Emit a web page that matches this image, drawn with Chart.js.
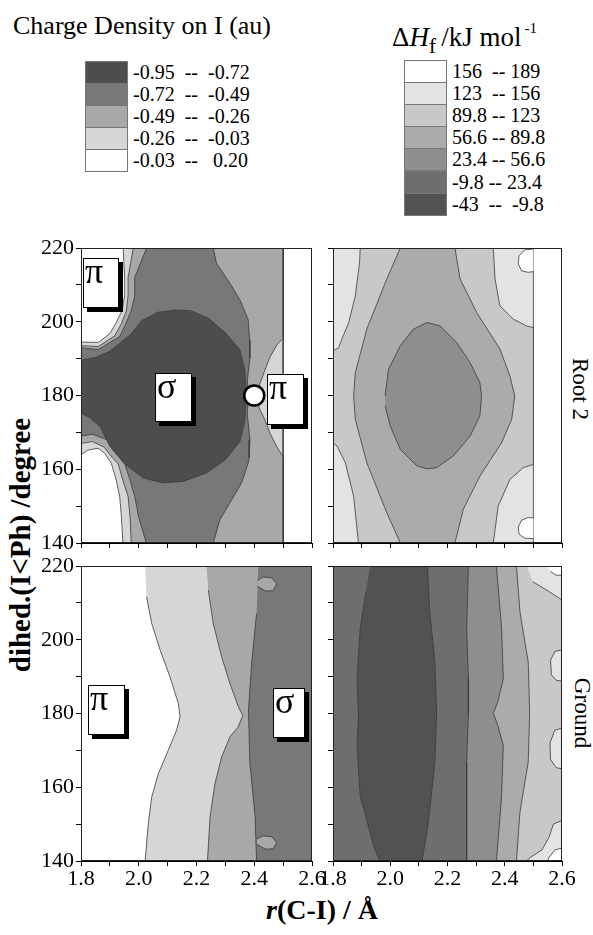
<!DOCTYPE html>
<html>
<head>
<meta charset="utf-8">
<script src="https://cdn.jsdelivr.net/npm/chart.js@4.4.1/dist/chart.umd.min.js"></script>
<style>
  body { margin: 0; background: #fff; }
  #page { position: relative; width: 593px; height: 935px; overflow: hidden;
          font-family: "Liberation Serif", "DejaVu Serif", serif; color: #000; }
  .panel { position: absolute; }
  .tag { position: absolute; background: #fff; border: 1.5px solid #000; box-shadow: 4px 4px 0 #000;
         font-size: 36px; line-height: 24px; box-sizing: border-box; padding-left: 1px; z-index: 5; }
  .rot { position: absolute; white-space: nowrap; }
  .sw { position: absolute; box-sizing: border-box; }
  .lb { position: absolute; white-space: pre; font-size: 20px; line-height: 22px; }
</style>
</head>
<body>
<div id="page">
  <div class="rot" style="left:13px;top:13px;font-size:26px;line-height:26px;">Charge Density on I (au)</div>
  <div class="rot" style="left:392px;top:15px;font-size:27px;line-height:27px;">&Delta;<i>H</i><sub style="font-size:21px;vertical-align:-7px;">f</sub>&thinsp;/kJ mol<sup style="font-size:15px;vertical-align:13px;">&thinsp;-1</sup></div>
  <div id="legendA"></div>
  <div id="legendB"></div>

  <div class="rot" style="left:20px;top:545px;font-size:29px;font-weight:bold;transform:translate(-50%,-50%) rotate(-90deg);">dihed.(I&lt;Ph) /degree</div>
  <div class="rot" style="left:322px;top:910px;font-size:28px;font-weight:bold;transform:translate(-50%,-50%);"><i>r</i>(C-I) / &Aring;</div>
  <div class="rot" style="left:580px;top:389px;font-size:23px;transform:translate(-50%,-50%) rotate(90deg);">Root 2</div>
  <div class="rot" style="left:582px;top:713px;font-size:23px;transform:translate(-50%,-50%) rotate(90deg);">Ground</div>

  <div class="tag" style="left:83px;top:258px;width:36px;height:50px;">&pi;</div>
  <div class="tag" style="left:155px;top:373px;width:37px;height:49px;">&sigma;</div>
  <div class="tag" style="left:267px;top:374px;width:37px;height:51px;">&pi;</div>
  <div class="tag" style="left:88px;top:685px;width:37px;height:50px;">&pi;</div>
  <div class="tag" style="left:273px;top:688px;width:32px;height:50px;">&sigma;</div>
</div>

<script>
  // legend categories (two colour keys)
  const chargeRanges = ["-0.95  --  -0.72", "-0.72  --  -0.49", "-0.49  --  -0.26", "-0.26  --  -0.03", "-0.03  --   0.20"];
  const chargeColors = ["#4d4d4d", "#787878", "#a8a8a8", "#d6d6d6", "#ffffff"];
  const enthRanges = ["156  -- 189", "123  -- 156", "89.8 -- 123", "56.6 -- 89.8", "23.4 -- 56.6", "-9.8 -- 23.4", "-43  --  -9.8"];
  const enthColors = ["#ffffff", "#e3e3e3", "#c8c8c8", "#ababab", "#8e8e8e", "#6e6e6e", "#525252"];

  // axis ranges
  const rRange = [1.8, 2.6];
  const dihedRange = [140, 220];

  // ---- Root 2, charge density: contour regions as [r, dihed] outlines ----
  const r2ChargeL4 = [[1.946,220],[2.50,220],[2.50,140],[1.945,140],[1.940,147.1],[1.934,152.6],[1.922,157.1],[1.905,161.6],[1.882,164.3],[1.859,165.7],[1.824,165.2],[1.80,163.9],[1.80,194.5],[1.86,194.4],[1.899,196.7],[1.92,199.5],[1.942,203],[1.951,207],[1.951,212],[1.946,220]];
  const r2ChargeL3 = [[1.981,220],[2.50,220],[2.50,195.5],[2.478,193.7],[2.455,190.5],[2.437,186.9],[2.420,183.3],[2.403,179.7],[2.420,176.1],[2.437,173.4],[2.455,169.7],[2.478,166.1],[2.50,163.4],[2.50,140],[1.974,140],[1.97,147],[1.963,152.6],[1.945,157],[1.928,161.6],[1.91,163],[1.88,166],[1.84,167.5],[1.80,167],[1.80,193.5],[1.86,193.3],[1.917,196.2],[1.94,199.5],[1.957,203],[1.963,207],[1.963,212],[1.981,220]];
  const r2ChargeL2 = [[2.027,220],[2.258,220],[2.269,215.9],[2.315,210.5],[2.350,206],[2.379,200.6],[2.384,195.1],[2.385,190],[2.376,184],[2.380,180],[2.376,175],[2.385,168],[2.382,163],[2.379,161.7],[2.356,156.3],[2.315,150.8],[2.281,146.3],[2.258,140],[2.026,140],[2.00,147],[1.986,152.6],[1.97,157],[1.951,161.6],[1.92,165],[1.89,168],[1.84,169.5],[1.80,169],[1.80,192.9],[1.86,192.5],[1.934,196],[1.955,199.5],[1.974,203],[1.986,207],[1.986,212],[2.027,220]];
  const r2ChargeL1 = [[1.80,189.6],[1.85,190.3],[1.90,192],[1.94,194.5],[1.974,196.7],[2.01,200.3],[2.067,202.6],[2.13,203.2],[2.18,203.0],[2.24,201.0],[2.30,197.0],[2.35,192.4],[2.367,187.0],[2.373,180],[2.367,173],[2.35,167.5],[2.30,162.6],[2.235,159.0],[2.154,156.7],[2.085,156.3],[2.016,157.6],[1.95,161.5],[1.90,166.2],[1.866,171.6],[1.83,174],[1.80,175.2]];
  const r2Crossing = [[2.40, 180]];

  // ---- Root 2, enthalpy ----
  const r2EnthE3 = [[1.8,140],[2.5,140],[2.5,220],[1.8,220]];
  const r2EnthWhiteTop = [[2.50,219.7],[2.470,219.5],[2.450,217.9],[2.447,215.7],[2.459,213.8],[2.482,213.4],[2.50,213.6]];
  const r2EnthWhiteBot = [[2.50,146.8],[2.482,146.9],[2.459,146.2],[2.447,144.3],[2.450,142.4],[2.470,141.3],[2.50,141.2]];
  const r2EnthC8 = [[1.895,220],[1.893,216.1],[1.878,207],[1.855,199.8],[1.831,195.3],[1.820,193],[1.8,192.1],[1.8,167.2],[1.814,166.3],[1.843,161.8],[1.872,152.7],[1.889,140],[2.360,140],[2.377,150],[2.418,157.2],[2.464,160.4],[2.50,161.3],[2.50,198.4],[2.476,198.9],[2.43,200.7],[2.383,204.3],[2.366,211.6],[2.360,220]];
  const r2EnthAB = [[2.035,220],[1.988,211.6],[1.918,198],[1.878,186.2],[1.872,179.9],[1.878,173.5],[1.918,161.8],[1.988,148.2],[2.035,140],[2.226,140],[2.255,149.1],[2.313,158.1],[2.389,167.2],[2.424,173.5],[2.435,179.9],[2.418,185.3],[2.383,192.6],[2.302,202.5],[2.244,211.6],[2.226,220]];
  const r2Enth8E = [[1.982,179.9],[1.994,187.1],[2.035,193.5],[2.081,198.0],[2.128,199.8],[2.174,198.9],[2.232,194.4],[2.279,188.9],[2.313,183.5],[2.319,179.9],[2.313,174.4],[2.279,169.0],[2.220,163.6],[2.162,160.4],[2.128,160.1],[2.093,160.9],[2.035,165.4],[2.000,171.7],[1.982,177.2]];

  // ---- Ground, charge density ----
  const gChargeL4 = [[2.022,220],[2.6,220],[2.6,140],[2.022,140],[2.033,150.1],[2.045,157.4],[2.068,163.7],[2.102,170],[2.131,175.5],[2.143,179.1],[2.137,182.7],[2.108,190],[2.074,197.2],[2.045,204.4],[2.027,211.7]];
  const gChargeL3 = [[2.235,220],[2.6,220],[2.6,140],[2.238,140],[2.247,152],[2.264,161],[2.287,168.2],[2.316,173.7],[2.345,176.4],[2.360,179.5],[2.345,181.8],[2.316,188.1],[2.287,195.4],[2.258,204.4],[2.241,213.5]];
  const gChargeL2 = [[2.414,220],[2.6,220],[2.6,140],[2.408,140],[2.403,152],[2.385,166.4],[2.380,180.9],[2.391,193.6],[2.408,207.1]];
  const gChargeBlobTop = [[2.411,216],[2.43,217],[2.46,216.8],[2.478,215.2],[2.465,213.3],[2.44,213.2],[2.411,214.5]];
  const gChargeBlobBot = [[2.409,146],[2.43,146.8],[2.46,146.6],[2.478,145],[2.465,143.3],[2.44,143.2],[2.409,144.5]];

  // ---- Ground, enthalpy ----
  const gEnthC8 = [[1.8,140],[2.6,140],[2.6,220],[1.8,220]];
  const gEnthE3Top = [[2.476,220],[2.6,220],[2.6,210.7],[2.592,211.2],[2.546,213.5],[2.499,215.7]];
  const gEnthWhiteTop = [[2.55,220],[2.6,220],[2.6,217.5],[2.58,217.5],[2.56,218.5]];
  const gEnthE3Mid1 = [[2.6,197.3],[2.575,196.8],[2.560,194.5],[2.563,190.5],[2.58,189],[2.6,188.8]];
  const gEnthE3Mid2 = [[2.6,176],[2.575,175.5],[2.558,172],[2.560,167.5],[2.58,165.3],[2.6,165]];
  const gEnthE3Bot = [[2.6,151],[2.57,150],[2.555,146.5],[2.53,143],[2.49,141],[2.475,140],[2.6,140]];
  const gEnthWhiteBot = [[2.6,143.5],[2.575,143],[2.555,141],[2.55,140],[2.6,140]];
  const gEnthAB = [[1.8,220],[2.441,220],[2.453,207.6],[2.482,194],[2.487,180],[2.482,166.8],[2.453,153.2],[2.441,140],[1.8,140]];
  const gEnth8E = [[1.8,220],[2.371,220],[2.389,203],[2.395,189.4],[2.375,183],[2.360,180],[2.375,177],[2.395,171.3],[2.389,157.7],[2.371,140],[1.8,140]];
  const gEnth6E = [[1.8,220],[2.273,220],[2.267,203],[2.273,189.4],[2.273,180],[2.267,166.8],[2.267,140],[1.8,140]];
  const gEnth52 = [[1.93,220],[2.13,220],[2.138,207.6],[2.156,194],[2.162,180],[2.156,166.8],[2.133,150.4],[2.111,140],[1.964,140],[1.942,144.1],[1.895,157.7],[1.884,171.3],[1.889,180],[1.884,189.4],[1.895,203],[1.915,213]];

  const SERIF = "'Liberation Serif', 'DejaVu Serif', serif";
  const page = document.getElementById("page");

  // build a colour key
  function buildLegend(el, ranges, colors, x, y, w, rowH){
    ranges.forEach((txt, i) => {
      const sw = document.createElement("div");
      sw.className = "sw";
      sw.style.cssText = `left:${x}px;top:${y + i*rowH}px;width:${w}px;height:${rowH + 1}px;background:${colors[i]};border:1px solid #777;`;
      el.appendChild(sw);
      const lb = document.createElement("div");
      lb.className = "lb";
      lb.style.left = (x + w + 5) + "px";
      lb.style.top = (y + i*rowH) + "px";
      lb.textContent = txt;
      el.appendChild(lb);
    });
  }
  buildLegend(document.getElementById("legendA"), chargeRanges, chargeColors, 85, 61, 43, 22.1);
  buildLegend(document.getElementById("legendB"), enthRanges, enthColors, 404, 60, 43, 22.1);

  function region(pts, color){
    return { data: pts.map(p => ({x: p[0], y: p[1]})), fill: "shape", backgroundColor: color,
             borderColor: "#3a3a3a", borderWidth: 0.8, pointRadius: 0, tension: 0 };
  }

  const framePlugin = {
    id: "frame",
    afterDraw(chart){
      const {ctx, chartArea: a} = chart;
      ctx.save();
      ctx.strokeStyle = "#222";
      ctx.lineWidth = 1;
      ctx.strokeRect(a.left + 0.5, a.top + 0.5, a.width - 1, a.height - 1);
      ctx.restore();
    }
  };

  // box = plot area in page px, pad = room around it for ticks / labels
  function makePanel(box, pad, datasets, showX, showY){
    const wrap = document.createElement("div");
    wrap.className = "panel";
    const W = box.w + pad.l + pad.r, H = box.h + pad.t + pad.b;
    wrap.style.cssText = `left:${box.l - pad.l}px;top:${box.t - pad.t}px;width:${W}px;height:${H}px;`;
    const cv = document.createElement("canvas");
    cv.width = W; cv.height = H;
    cv.style.width = W + "px"; cv.style.height = H + "px";
    wrap.appendChild(cv);
    page.appendChild(wrap);

    // first listed = bottom layer
    datasets.forEach((d, i) => { d.order = datasets.length - i; });

    return new Chart(cv.getContext("2d"), {
      type: "line",
      data: { datasets },
      options: {
        responsive: false, animation: false, events: [],
        layout: { padding: { left: 0, top: pad.t, right: pad.r, bottom: 0 }, autoPadding: false },
        plugins: { legend: { display: false }, tooltip: { enabled: false } },
        scales: {
          x: {
            type: "linear", min: rRange[0], max: rRange[1],
            afterFit: s => { s.height = pad.b; },
            grid: { drawOnChartArea: false, drawTicks: true, tickLength: 5, color: "#000" },
            border: { display: true, color: "#000" },
            ticks: { display: showX, stepSize: 0.1, autoSkip: false, maxRotation: 0, padding: 0,
                     color: "#000", font: { family: SERIF, size: 22 },
                     callback: v => (Math.round(v * 10) % 2 === 0 ? v.toFixed(1) : "") }
          },
          y: {
            type: "linear", min: dihedRange[0], max: dihedRange[1],
            afterFit: s => { s.width = pad.l; },
            grid: { drawOnChartArea: false, drawTicks: true, tickLength: 5, color: "#000" },
            border: { display: true, color: "#000" },
            ticks: { display: showY, stepSize: 10, autoSkip: false, padding: 2,
                     color: "#000", font: { family: SERIF, size: 22 },
                     callback: v => (v % 20 === 0 ? String(v) : "") }
          }
        }
      },
      plugins: [framePlugin]
    });
  }

  // Root 2 — charge density
  const crossing = { data: r2Crossing.map(p => ({x: p[0], y: p[1]})), showLine: false, pointRadius: 10,
                     pointBackgroundColor: "#fff", pointBorderColor: "#000", pointBorderWidth: 2.5, clip: false };
  makePanel({l: 81, t: 248, w: 231, h: 295}, {l: 81, t: 16, r: 10, b: 16}, [
    region(r2ChargeL4, chargeColors[3]),
    region(r2ChargeL3, chargeColors[2]),
    region(r2ChargeL2, chargeColors[1]),
    region(r2ChargeL1, chargeColors[0]),
    crossing
  ], false, true);

  // Root 2 — enthalpy
  makePanel({l: 333, t: 248, w: 229, h: 295}, {l: 20, t: 16, r: 10, b: 16}, [
    region(r2EnthE3, enthColors[1]),
    region(r2EnthWhiteTop, enthColors[0]),
    region(r2EnthWhiteBot, enthColors[0]),
    region(r2EnthC8, enthColors[2]),
    region(r2EnthAB, enthColors[3]),
    region(r2Enth8E, enthColors[4])
  ], false, false);

  // Ground — charge density
  makePanel({l: 81, t: 566, w: 231, h: 295}, {l: 81, t: 16, r: 20, b: 35}, [
    region(gChargeL4, chargeColors[3]),
    region(gChargeL3, chargeColors[2]),
    region(gChargeL2, chargeColors[1]),
    region(gChargeBlobTop, chargeColors[2]),
    region(gChargeBlobBot, chargeColors[2])
  ], true, true);

  // Ground — enthalpy
  makePanel({l: 333, t: 566, w: 229, h: 295}, {l: 20, t: 16, r: 25, b: 35}, [
    region(gEnthC8, enthColors[2]),
    region(gEnthE3Top, enthColors[1]),
    region(gEnthWhiteTop, enthColors[0]),
    region(gEnthE3Mid1, enthColors[1]),
    region(gEnthE3Mid2, enthColors[1]),
    region(gEnthE3Bot, enthColors[1]),
    region(gEnthWhiteBot, enthColors[0]),
    region(gEnthAB, enthColors[3]),
    region(gEnth8E, enthColors[4]),
    region(gEnth6E, enthColors[5]),
    region(gEnth52, enthColors[6])
  ], true, false);
</script>
</body>
</html>
